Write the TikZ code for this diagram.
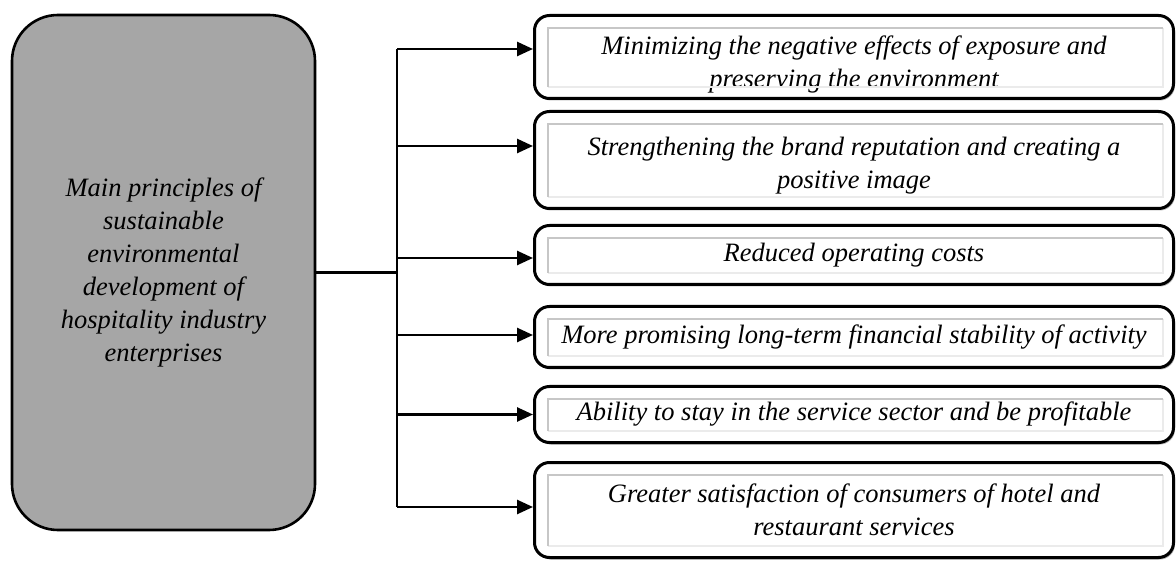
\documentclass[tikz,border=0pt]{standalone}
\usepackage{fontspec}
\setmainfont{Liberation Serif}
\usepackage{tikz}
\usetikzlibrary{arrows.meta,positioning,shadows}
\tikzset{>={Triangle[length=16pt,width=14pt]},
  main node/.style={rectangle,rounded corners=46pt,fill=black!35,draw,line width=2.6pt,minimum width=303pt,minimum height=515pt,inner sep=0pt,align=center,font=\itshape\fontsize{26.5}{33}\selectfont},
  item node/.style={rectangle,rounded corners=15pt,draw,fill=white,line width=3pt,minimum width=639pt,inner sep=0pt,align=center,font=\itshape\fontsize{26.5}{33}\selectfont,drop shadow={shadow xshift=1.5pt,shadow yshift=-2pt,opacity=0.6}},
  edge/.style={line width=2.6pt},
  frame dark/.style={draw=black!22,line width=2pt},
  frame light/.style={draw=black!8,line width=1.2pt}}
\begin{document}
\begin{tikzpicture}[x=1pt,y=-1pt]
    \useasboundingbox (0,0) rectangle (1176,561);
    \node[main node] (main) at (163.5,272.5) {Main principles of\\ sustainable\\ environmental\\ development of\\ hospitality industry\\ enterprises};
    \node[item node, minimum height=83pt] (b1) at (854,57) {\rule{0pt}{34pt}Minimizing the negative effects of exposure and\\ preserving the environment};
    \node[item node, minimum height=97pt] (b2) [below = 10pt of b1] {\rule{0pt}{30pt}Strengthening the brand reputation and creating a\\ positive image};
    \node[item node, minimum height=59pt] (b3) [below = 14pt of b2] {Reduced operating costs};
    \node[item node, minimum height=61pt] (b4) [below = 19pt of b3] {More promising long-term financial stability of activity};
    \node[item node, minimum height=56pt] (b5) [below = 16pt of b4] {Ability to stay in the service sector and be profitable};
    \node[item node, minimum height=95pt] (b6) [below = 17pt of b5] {Greater satisfaction of consumers of hotel and\\ restaurant services};
    % inner frames of the boxes
    \foreach \b in {b1,b2,b3,b4,b5,b6}{
        \draw[frame light] ([xshift=15pt,yshift=13pt]\b.south west) -| ([xshift=-12pt,yshift=-14pt]\b.north east);
        \draw[frame dark] ([xshift=15pt,yshift=13pt]\b.south west) |- ([xshift=-12pt,yshift=-14pt]\b.north east);
    }
    % connectors
    \coordinate (hub) at (397,272.5);
    \draw[edge] (main.east) -- (hub);
    \foreach \b/\dy in {b1/8,b2/14,b3/-3,b4/2,b5/0,b6/3}{
        \coordinate (t\b) at ([yshift=\dy pt]\b.west);
        \draw[edge,->] (hub |- t\b) -- (t\b);
    }
    \draw[edge] (hub |- tb1) -- (hub |- tb6);
\end{tikzpicture}
\end{document}
